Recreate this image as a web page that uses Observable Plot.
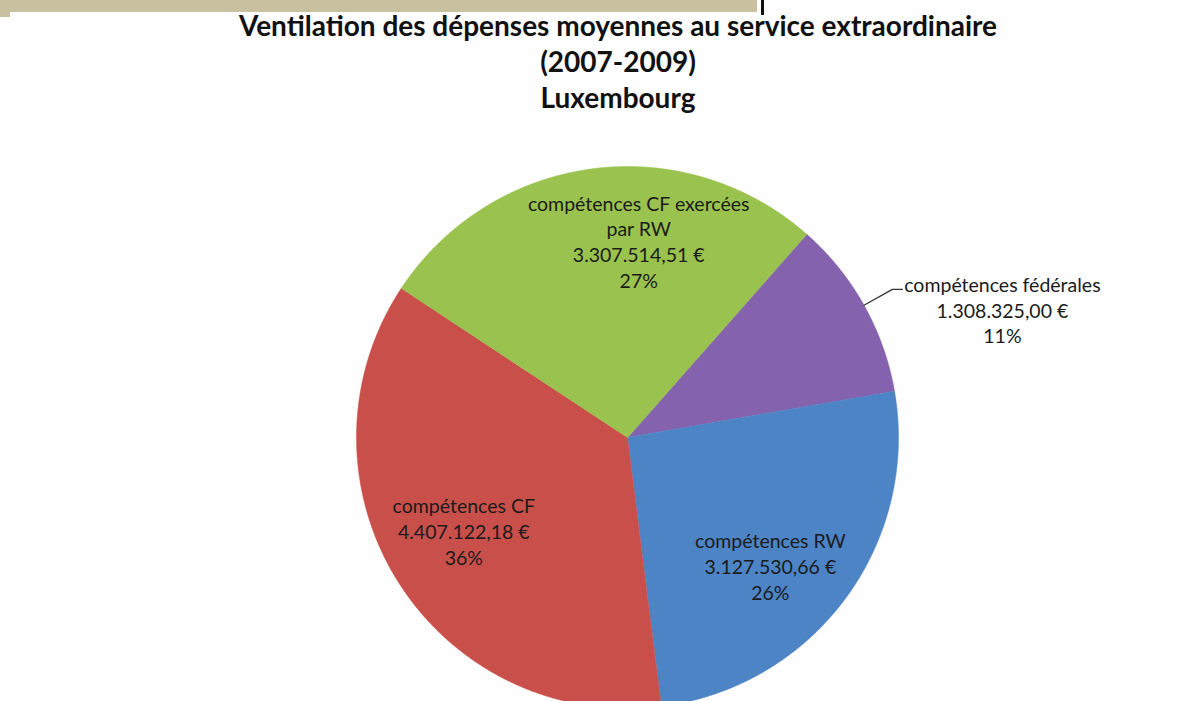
<!DOCTYPE html>
<html><head><meta charset="utf-8">
<script src="https://cdn.jsdelivr.net/npm/d3@7"></script>
<script src="https://cdn.jsdelivr.net/npm/@observablehq/plot@0.6"></script>
<style>
html,body{margin:0;padding:0;background:#fff;overflow:hidden}
#wrap{position:relative;width:1194px;height:701px;background:#fefefe}
#chart{position:absolute;left:0;top:0}
#title{position:absolute;left:0;top:7px;width:1236px;text-align:center;font-family:Lato,"Open Sans",sans-serif;font-weight:bold;font-size:28px;line-height:36px;color:#111}
#bar{position:absolute;left:0;top:0;width:757px;height:12px;background:#c8c09e}
#bar2{position:absolute;left:0;top:0;width:10px;height:17px;background:#c8c09e}
#rule{position:absolute;left:761px;top:0;width:3px;height:15px;background:#111}
</style></head>
<body>
<div id="wrap">
  <div id="chart"></div>
  <div id="bar"></div><div id="bar2"></div><div id="rule"></div>
  <div id="title">Ventilation des dépenses moyennes au service extraordinaire<br>(2007-2009)<br>Luxembourg</div>
</div>
<script>
// ---- data ----
const categories = ["compétences fédérales", "compétences RW", "compétences CF", "compétences CF exercées par RW"];
const labelNames = ["compétences fédérales", "compétences RW", "compétences CF", "compétences CF exercées\npar RW"];
const values = [1308325.00, 3127530.66, 4407122.18, 3307514.51];
const colors = ["#8462ad", "#4c84c6", "#c9504a", "#9ac24e"];

// ---- layout ----
const W = 1194, H = 701;
const cx = 627, cy = 437, R = 271;
const startDeg = 41.4;
const nudges = [[0, 0], [-14, 12], [2, -10], [37, -3]]; // label nudges in px
const outside = [true, false, false, false];

const total = d3.sum(values);
const fmtEuro = v => {
  const [i, d] = v.toFixed(2).split(".");
  return i.replace(/\B(?=(\d{3})+(?!\d))/g, ".") + "," + d + " €";
};
const start = startDeg * Math.PI / 180;
const arcs = d3.pie().sort(null).startAngle(start).endAngle(start + 2 * Math.PI)(values);

const poly = [];
arcs.forEach((a, i) => {
  poly.push({cat: categories[i], x: 0, y: 0});
  const n = Math.max(2, Math.ceil((a.endAngle - a.startAngle) / 0.005));
  for (let k = 0; k <= n; k++) {
    const t = a.startAngle + (a.endAngle - a.startAngle) * k / n;
    poly.push({cat: categories[i], x: Math.sin(t), y: Math.cos(t)});
  }
});

const inLabels = [], outLabels = [], leader = [];
arcs.forEach((a, i) => {
  const m = (a.startAngle + a.endAngle) / 2;
  const text = labelNames[i] + "\n" + fmtEuro(values[i]) + "\n" + Math.round(values[i] / total * 100) + "%";
  if (outside[i]) {
    const ex = Math.sin(m), ey = Math.cos(m);
    const bx = 1.12 * ex, by = 1.12 * ey;
    leader.push({x: ex, y: ey}, {x: bx, y: by}, {x: bx + 10 / R, y: by});
    outLabels.push({x: bx + 110 / R, y: by - 20 / R, text});
  } else {
    inLabels.push({
      x: 0.72 * Math.sin(m) + nudges[i][0] / R,
      y: 0.72 * Math.cos(m) - nudges[i][1] / R,
      text
    });
  }
});

const font = "Lato, 'Open Sans', sans-serif";
const chart = Plot.plot({
  width: W, height: H,
  margin: 0,
  style: {background: "transparent"},
  x: {domain: [-cx / R, (W - cx) / R], range: [0, W], axis: null},
  y: {domain: [(cy - H) / R, cy / R], range: [H, 0], axis: null},
  color: {domain: categories, range: colors},
  marks: [
    Plot.line(poly, {x: "x", y: "y", z: "cat", fill: "cat", stroke: "cat", strokeWidth: 0.5, curve: "linear-closed"}),
    Plot.line(leader, {x: "x", y: "y", stroke: "#333", strokeWidth: 1.3}),
    Plot.text(inLabels, {x: "x", y: "y", text: "text", fontSize: 19.5, lineHeight: 1.32, fill: "#1b1b1b", fontFamily: font}),
    Plot.text(outLabels, {x: "x", y: "y", text: "text", fontSize: 19.5, lineHeight: 1.32, fill: "#1b1b1b", fontFamily: font})
  ]
});
document.getElementById("chart").appendChild(chart);
</script>
</body></html>
